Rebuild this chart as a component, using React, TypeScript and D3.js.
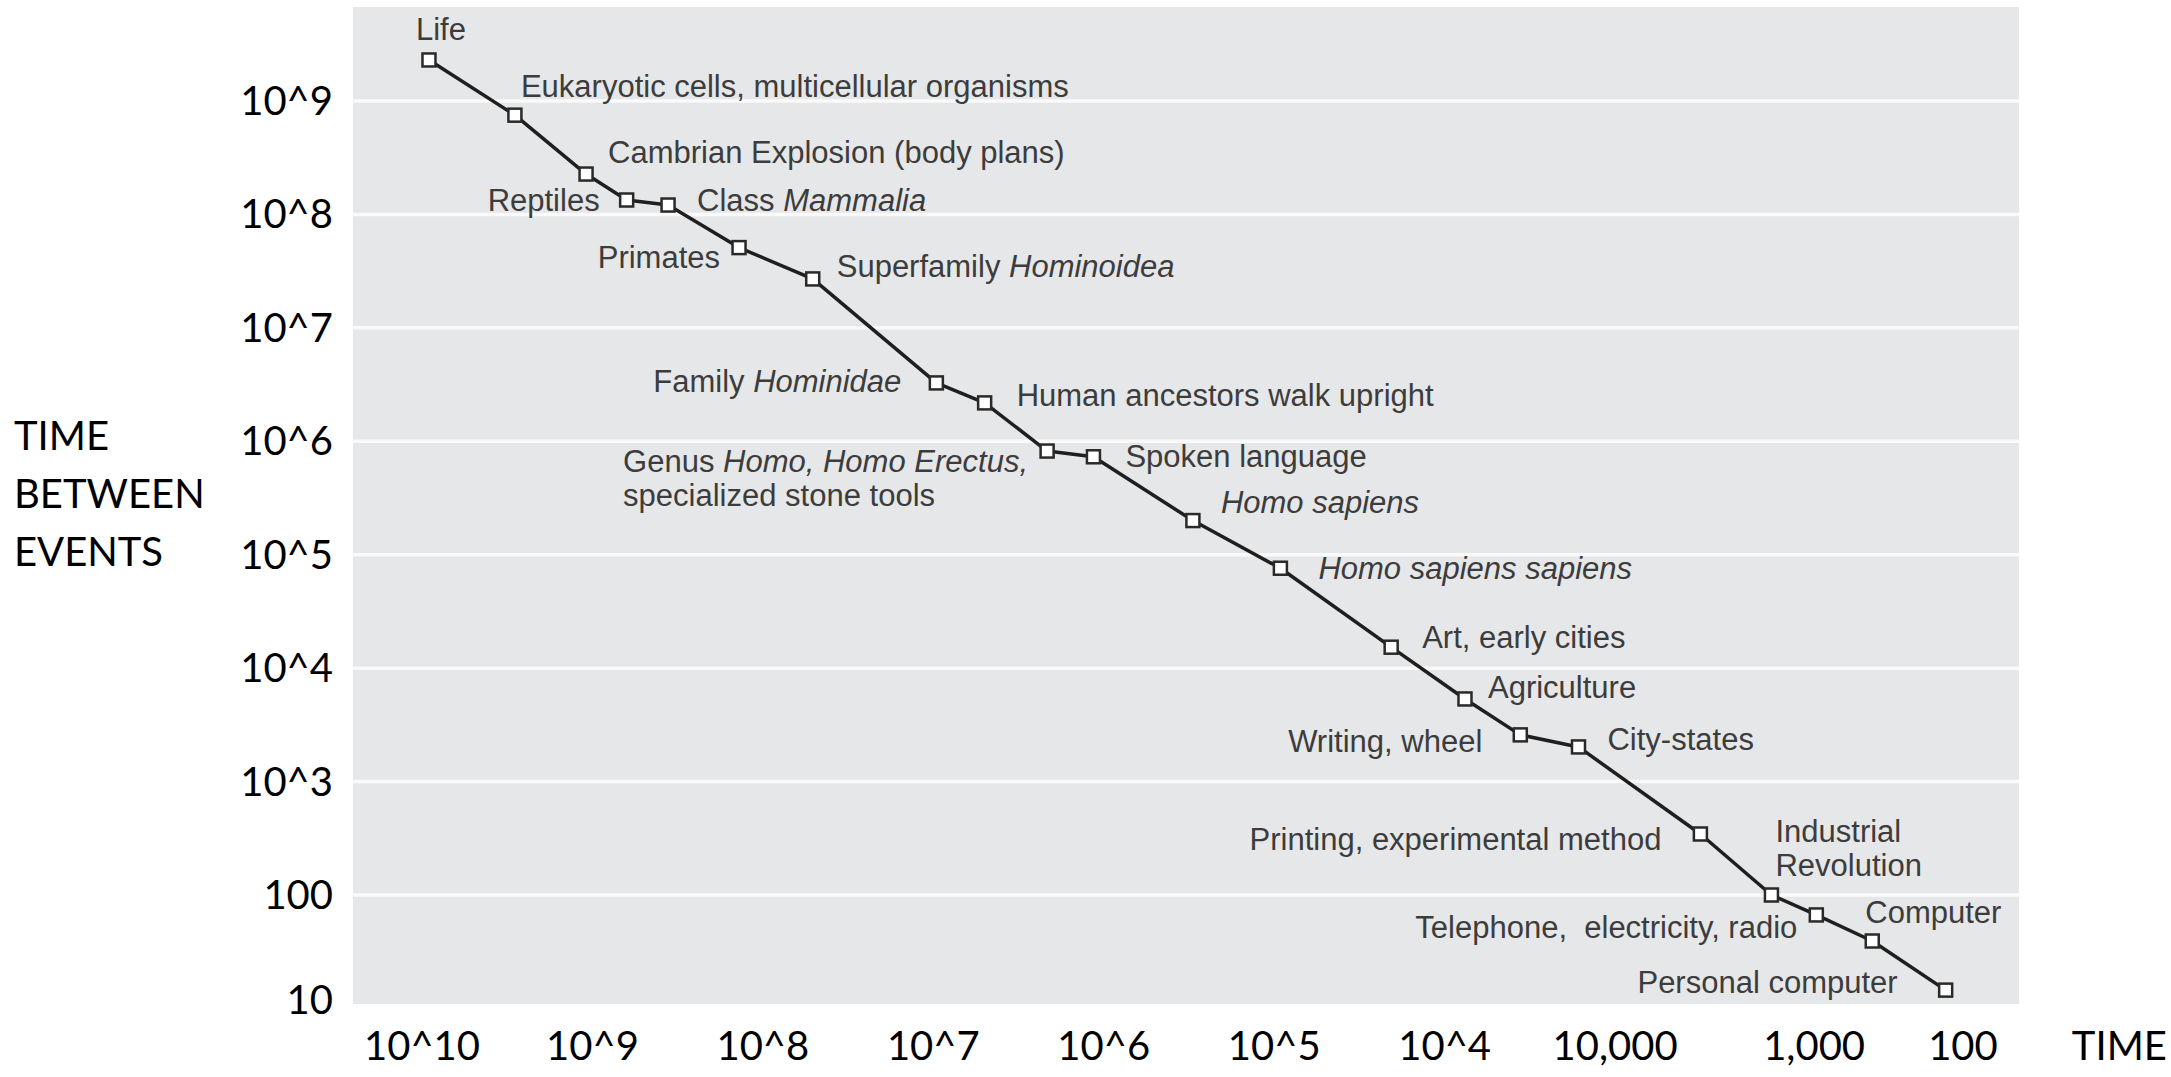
import React, { useEffect, useRef } from "react";
import * as d3 from "d3";

// events on the countdown (years before present / years to next event)
const eventNames = [
  "Life",
  "Eukaryotic cells, multicellular organisms",
  "Cambrian Explosion (body plans)",
  "Reptiles",
  "Class *Mammalia*",
  "Primates",
  "Superfamily *Hominoidea*",
  "Family *Hominidae*",
  "Human ancestors walk upright",
  "Genus *Homo, Homo Erectus,*\nspecialized stone tools",
  "Spoken language",
  "*Homo sapiens*",
  "*Homo sapiens sapiens*",
  "Art, early cities",
  "Agriculture",
  "Writing, wheel",
  "City-states",
  "Printing, experimental method",
  "Industrial\nRevolution",
  "Telephone,  electricity, radio",
  "Computer",
  "Personal computer",
];
const timeBeforePresent = [
  9.1e9, 2.85e9, 1.09e9, 6.3e8, 3.6e8, 1.38e8, 5.1e7, 9.6e6, 5.0e6, 2.15e6,
  1.15e6, 3.0e5, 9.2e4, 2.06e4, 7.6e3, 3.6e3, 1.64e3, 316, 121, 66, 31, 11.5,
];
const timeToNextEvent = [
  2.3e9, 7.5e8, 2.27e8, 1.34e8, 1.21e8, 5.1e7, 2.7e7, 3.27e6, 2.18e6, 8.2e5,
  7.3e5, 2.0e5, 7.6e4, 1.53e4, 5.35e3, 2.58e3, 2.02e3, 345, 100, 66.7, 39.3, 14.5,
];

// axis ticks (x labels sit where the picture has them on the log scale)
const yTickValues = [10, 100, 1e3, 1e4, 1e5, 1e6, 1e7, 1e8, 1e9];
const yTickLabels = ["10", "100", "10^3", "10^4", "10^5", "10^6", "10^7", "10^8", "10^9"];
const xTickValues = [1e10, 1e9, 1e8, 1e7, 1e6, 1e5, 1e4, 1e3, 68, 9.1, 1.1];
const xTickLabels = ["10^10", "10^9", "10^8", "10^7", "10^6", "10^5", "10^4", "10,000", "1,000", "100", "TIME"];
const yTitleLines = ["TIME", "BETWEEN", "EVENTS"];

// label placement relative to each marker (layout only)
const labelDx = [-13, 6, 22, -27, 29, -19, 24, -35, 32, -424, 32, 28, 38, 31, 23, -38, 29, -39, 4, -19, -7, -48];
const labelDy = [-20, -18, -11, 11, 6, 20, -2, 9, 3, 21, 10, -8, 11, 1, -1, 17, 3, 16, -53, 23, -18, 3];
const labelAnchor = [
  "start", "start", "start", "end", "start", "end", "start", "end", "start", "start", "start",
  "start", "start", "start", "start", "end", "start", "end", "start", "end", "start", "end",
];

const W = 2171;
const H = 1077;
const panel = { left: 353, right: 2019, top: 7, bottom: 1004 };

const App = () => {
  const svgRef = useRef(null);

  useEffect(() => {
    const svg = d3.select(svgRef.current);
    svg.selectAll("*").remove();

    const x = d3.scaleLog().domain([1e10, 10]).range([422, 1956]);
    const y = d3.scaleLog().domain([100, 1e9]).range([895, 101]);

    // fundo cinza do gráfico
    svg
      .append("rect")
      .attr("x", panel.left)
      .attr("y", panel.top)
      .attr("width", panel.right - panel.left)
      .attr("height", panel.bottom - panel.top)
      .attr("fill", "#e6e7e8");

    // white gridlines
    svg
      .append("g")
      .selectAll("line")
      .data(yTickValues.filter((v) => v >= 100))
      .join("line")
      .attr("x1", panel.left)
      .attr("x2", panel.right)
      .attr("y1", (d) => y(d))
      .attr("y2", (d) => y(d))
      .attr("stroke", "#fafafa")
      .attr("stroke-width", 3.5);

    // y tick labels
    svg
      .append("g")
      .selectAll("text")
      .data(yTickValues)
      .join("text")
      .attr("x", 333)
      .attr("y", (d) => Math.min(y(d) + 14, 1014))
      .attr("text-anchor", "end")
      .attr("font-family", "Lato, sans-serif")
      .attr("font-size", 40)
      .attr("fill", "#000")
      .text((d, i) => yTickLabels[i]);

    // x tick labels
    svg
      .append("g")
      .selectAll("text")
      .data(xTickValues)
      .join("text")
      .attr("x", (d) => x(d))
      .attr("y", 1060)
      .attr("text-anchor", "middle")
      .attr("font-family", "Lato, sans-serif")
      .attr("font-size", 40)
      .attr("fill", "#000")
      .text((d, i) => xTickLabels[i]);

    // y title
    svg
      .append("g")
      .selectAll("text")
      .data(yTitleLines)
      .join("text")
      .attr("x", 14)
      .attr("y", (d, i) => 450 + i * 58)
      .attr("font-family", "Lato, sans-serif")
      .attr("font-size", 40)
      .attr("fill", "#000")
      .text((d) => d);

    const points = eventNames.map((name, i) => ({
      name,
      px: x(timeBeforePresent[i]),
      py: y(timeToNextEvent[i]),
      i,
    }));

    // linha
    const line = d3
      .line()
      .x((d) => d.px)
      .y((d) => d.py);
    svg
      .append("path")
      .attr("d", line(points))
      .attr("fill", "none")
      .attr("stroke", "#1f1f1f")
      .attr("stroke-width", 3.5)
      .attr("stroke-linejoin", "round");

    // marcadores quadrados
    const size = 13;
    svg
      .append("g")
      .selectAll("rect")
      .data(points)
      .join("rect")
      .attr("x", (d) => d.px - size / 2)
      .attr("y", (d) => d.py - size / 2)
      .attr("width", size)
      .attr("height", size)
      .attr("fill", "#fff")
      .attr("stroke", "#2a2a2a")
      .attr("stroke-width", 2.5);

    // event labels (with *italic* parts)
    const labels = svg
      .append("g")
      .attr("font-family", "'Liberation Sans', Arial, sans-serif")
      .attr("font-size", 31)
      .attr("fill", "#3c3c3c");

    points.forEach((p) => {
      const lines = p.name.split("\n");
      lines.forEach((ln, li) => {
        const t = labels
          .append("text")
          .attr("x", p.px + labelDx[p.i])
          .attr("y", p.py + labelDy[p.i] + li * 34)
          .attr("text-anchor", labelAnchor[p.i])
          .attr("xml:space", "preserve")
          .style("white-space", "pre");
        ln.split("*").forEach((seg, si) => {
          if (!seg) return;
          t.append("tspan")
            .attr("font-style", si % 2 === 1 ? "italic" : "normal")
            .text(seg);
        });
      });
    });

    return () => {
      d3.select(svgRef.current).selectAll("*").remove();
    };
  }, []);

  return (
    <svg
      ref={svgRef}
      width={W}
      height={H}
      style={{ position: "absolute", left: 0, top: 0, background: "#fff" }}
    ></svg>
  );
};

export default App;
